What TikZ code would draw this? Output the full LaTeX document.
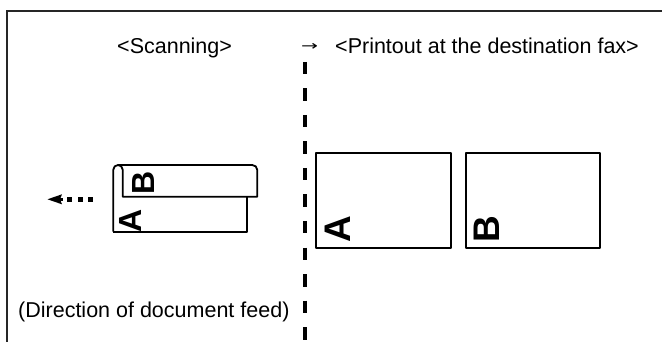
\documentclass[tikz,border=0pt]{standalone}
\usepackage{fontspec}
\setmainfont{Liberation Sans}
\newfontfamily\arrowfont{DejaVu Sans}
\begin{document}
\begin{tikzpicture}[x=1pt,y=-1pt,
  frameline/.style={line width=1.7pt, draw=black!85},
  sheet/.style={line width=1.8pt, line join=round},
  divider/.style={line width=4.7pt, dash pattern=on 12.5pt off 14pt},
  label/.style={inner sep=0pt, font=\fontsize{21.5}{24}\selectfont},
  bigletter/.style={inner sep=0pt, rotate=90, font=\fontsize{#1}{#1}\selectfont\bfseries}]
\useasboundingbox (0,0) rectangle (662,342);
% frame
\draw[frameline] (7,342) -- (7,11) -- (662,11);
% header texts
\node[label, anchor=base west] (scan) at (117,54) {<Scanning>};
\node[inner sep=0pt] (arr) at (309.5,47.5) {\resizebox{17pt}{7pt}{\arrowfont →}};
\node[label, anchor=base west] (print) at (335,54) {<Printout at the destination fax>};
\node[label, anchor=base west] (feed) at (18,317) {(Direction of document feed)};
% divider
\draw[divider] (305,62) -- (305,342);
% feed arrow
\fill (47.5,199.3) -- (62,194.3) -- (60,199.3) -- (62,204.3) -- cycle;
\fill (60,197.6) rectangle (63,201);
\fill (66.7,197.1) rectangle (71.9,201.7);
\fill (78.1,197.1) rectangle (83.3,201.7);
\fill (88.1,197.1) rectangle (93.3,201.7);
% scanned sheets
\draw[sheet] (113.3,231.7) -- (246.7,231.7) -- (246.7,196.7);
\draw[sheet] (113.3,231.7) -- (113.3,169.7) arc[start angle=180, end angle=360, radius=4.7]
  -- (122.7,196.7) -- (257.3,196.7) -- (257.3,170) arc[start angle=0, end angle=-90, radius=5] -- (118,165);
\node[bigletter=32] (la) at (130,220.8) {A};
\node[bigletter=32] (lb) at (143.3,182.5) {B};
% printed pages
\draw[sheet] (316,153.3) rectangle (450.7,248.3);
\draw[sheet] (465.7,153.3) rectangle (600,248.3);
\node[bigletter=37] (ra) at (337.5,229) {A};
\node[bigletter=37] (rb) at (487,229) {B};
\end{tikzpicture}
\end{document}
